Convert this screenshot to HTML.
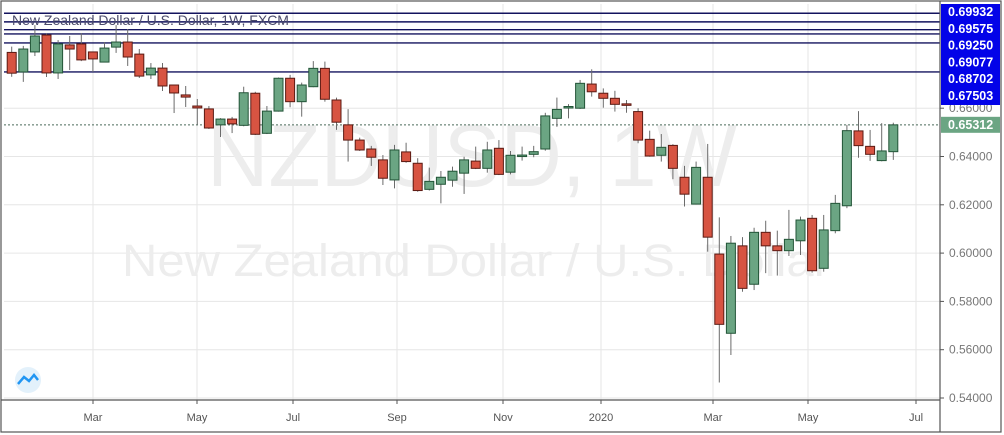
<!DOCTYPE html>
<html><head><meta charset="utf-8"><style>
body{margin:0;background:#fff;overflow:hidden}
svg{display:block;font-family:"Liberation Sans",sans-serif}
</style></head><body>
<svg id="c" width="1004" height="435">
<rect x="0" y="0" width="1004" height="435" fill="#fff"/>
<g id="grid"></g>
<g id="wm">
<text x="472" y="186" font-size="88" fill="#ededed" text-anchor="middle" textLength="530" lengthAdjust="spacingAndGlyphs">NZDUSD, 1W</text>
<text x="476" y="276" font-size="45" fill="#ededed" text-anchor="middle" textLength="708" lengthAdjust="spacingAndGlyphs">New Zealand Dollar / U.S. Dollar</text>
</g>
<g id="levels"></g>
<g id="candles"></g>
<g id="axis"></g>
<text x="12" y="25" font-size="14" fill="#4a4a6a">New Zealand Dollar / U.S. Dollar, 1W, FXCM</text>
<g><circle cx="28" cy="380" r="13" fill="#e3f1fb"/><path d="M18 384 L24 377 L29 381 L34 375 L38 380" stroke="#2196f3" stroke-width="2.5" fill="none"/></g>
</svg>
<script>
const months=["Mar","May","Jul","Sep","Nov","2020","Mar","May","Jul"];
const monthX=[93,197,293,397,503,601,713,808,916];
const priceTicks=[0.54,0.56,0.58,0.60,0.62,0.64,0.66];
const levels=[0.69932,0.69575,0.69250,0.69077,0.68702,0.67503];
const lastPrice=0.65312;
const opens=[0.6831,0.6750,0.6833,0.6903,0.6746,0.6862,0.6866,0.6833,0.6791,0.6853,0.6874,0.6824,0.6738,0.6766,0.6696,0.6655,0.6609,0.6597,0.6531,0.6555,0.6529,0.6662,0.6496,0.6588,0.6724,0.6627,0.6689,0.6765,0.6634,0.6531,0.6468,0.6431,0.6386,0.6303,0.6419,0.6372,0.6264,0.6285,0.6302,0.6331,0.6381,0.6351,0.6434,0.6335,0.6404,0.6409,0.6431,0.6558,0.6606,0.6600,0.6700,0.6662,0.6641,0.6618,0.6586,0.6471,0.6405,0.6446,0.6314,0.6203,0.6314,0.5996,0.5668,0.6030,0.5871,0.6086,0.6030,0.6010,0.6051,0.6144,0.5937,0.6093,0.6196,0.6506,0.6442,0.6383,0.6420];
const highs=[0.6855,0.6858,0.6944,0.6911,0.6882,0.6899,0.6911,0.6833,0.6874,0.6944,0.6928,0.6845,0.6787,0.6787,0.6696,0.6692,0.6638,0.6609,0.6559,0.6564,0.6689,0.6668,0.6609,0.6727,0.6738,0.6706,0.6795,0.6793,0.6644,0.6596,0.6478,0.6444,0.6406,0.6448,0.6457,0.6393,0.6354,0.6340,0.6358,0.6399,0.6441,0.6461,0.6468,0.6423,0.6441,0.6444,0.6581,0.6644,0.6617,0.6717,0.6761,0.6682,0.6672,0.6634,0.6600,0.6507,0.6493,0.6451,0.6361,0.6379,0.6452,0.6148,0.6071,0.6066,0.6105,0.6134,0.6093,0.6179,0.6151,0.6158,0.6158,0.6241,0.6531,0.6588,0.6510,0.6538,0.6540];
const lows=[0.6730,0.6709,0.6816,0.6729,0.6721,0.6758,0.6795,0.6750,0.6791,0.6829,0.6775,0.6725,0.6721,0.6671,0.6580,0.6605,0.6531,0.6514,0.6481,0.6497,0.6525,0.6489,0.6493,0.6586,0.6604,0.6565,0.6687,0.6627,0.6510,0.6379,0.6423,0.6361,0.6282,0.6268,0.6374,0.6254,0.6259,0.6206,0.6275,0.6245,0.6348,0.6333,0.6323,0.6326,0.6383,0.6397,0.6424,0.6523,0.6558,0.6597,0.6648,0.6602,0.6586,0.6581,0.6455,0.6399,0.6379,0.6306,0.6193,0.6201,0.6006,0.5464,0.5578,0.5840,0.5847,0.5917,0.5907,0.5988,0.5992,0.5919,0.5923,0.6082,0.6186,0.6395,0.6382,0.6380,0.6386];
const closes=[0.6745,0.6845,0.6899,0.6746,0.6866,0.6845,0.6800,0.6804,0.6849,0.6874,0.6812,0.6733,0.6766,0.6692,0.6663,0.6646,0.6601,0.6518,0.6555,0.6535,0.6664,0.6492,0.6588,0.6724,0.6627,0.6696,0.6765,0.6637,0.6542,0.6468,0.6427,0.6397,0.6310,0.6427,0.6379,0.6259,0.6297,0.6314,0.6339,0.6386,0.6351,0.6427,0.6326,0.6405,0.6406,0.6420,0.6568,0.6595,0.6607,0.6703,0.6668,0.6641,0.6616,0.6613,0.6468,0.6402,0.6438,0.6351,0.6244,0.6355,0.6066,0.5705,0.6041,0.5854,0.6086,0.6030,0.6010,0.6057,0.6137,0.5927,0.6096,0.6206,0.6507,0.6445,0.6409,0.6423,0.6531];

const NS="http://www.w3.org/2000/svg";
const L=4,R=940,T=4,B=400;
function y(p){return 398-(p-0.54)*2415;}
function x(i){return 11.7+i*11.6;}
function mk(tag,attrs,parent){const e=document.createElementNS(NS,tag);for(const k in attrs)e.setAttribute(k,attrs[k]);document.getElementById(parent).appendChild(e);return e;}

monthX.forEach((mx)=>{const g=mk('line',{x1:mx,x2:mx,y1:T,y2:B,stroke:'#e6e6e6','stroke-width':1},'grid');

});
priceTicks.forEach((p)=>{const g=mk('line',{x1:L,x2:R,y1:y(p),y2:y(p),stroke:'#e6e6e6','stroke-width':1},'grid');

});

levels.forEach((p)=>{const l=mk('line',{x1:L,x2:R,y1:y(p),y2:y(p),stroke:'#13135e','stroke-width':1.4},'levels');

});
const dl=mk('line',{x1:L,x2:R,y1:y(lastPrice),y2:y(lastPrice),stroke:'#4a6a5a','stroke-width':1,'stroke-dasharray':'2,2'},'levels');



for(let i=0;i<opens.length;i++){
  const up=closes[i]>=opens[i];
  const cx=x(i);
  const w=mk('line',{x1:cx,x2:cx,y1:y(highs[i]),y2:y(lows[i]),stroke:'#6b6b6b','stroke-width':1},'candles');
  
  
  const top=y(Math.max(opens[i],closes[i])),bot=y(Math.min(opens[i],closes[i]));
  const b=mk('rect',{x:cx-4.5,y:top,width:9,height:Math.max(bot-top,1.5),fill:up?'#6ba583':'#d75442',stroke:up?'#225437':'#5b1a13','stroke-width':1},'candles');
  
  
}

mk('rect',{x:1,y:1,width:1000,height:431,fill:'none',stroke:'#555','stroke-width':1.2},'axis');
mk('line',{x1:R,x2:R,y1:1,y2:432,stroke:'#555','stroke-width':1.2},'axis');
mk('line',{x1:1,x2:R,y1:B,y2:B,stroke:'#555','stroke-width':1.2},'axis');
priceTicks.forEach((p)=>{
  mk('line',{x1:R,x2:R+4,y1:y(p),y2:y(p),stroke:'#555'},'axis');
  const t=mk('text',{x:R+9,y:y(p)+4,'font-size':12,fill:'#777'},'axis');
  t.textContent=p.toFixed(5);
  
  
});
monthX.forEach((mx,i)=>{
  mk('line',{x1:mx,x2:mx,y1:B,y2:B+4,stroke:'#555'},'axis');
  const t=mk('text',{x:mx,y:421,'font-size':11,fill:'#555','text-anchor':'middle'},'axis');
  t.textContent=months[i];
  
  
});
const bb=mk('rect',{x:R+1,y:4,width:59,height:101,fill:'#0303e8'},'axis');


levels.forEach((p,i)=>{
  const t=mk('text',{x:R+8,y:16+i*16.8,'font-size':12.5,'font-weight':'bold',fill:'#fff'},'axis');
  t.textContent=p.toFixed(5);
  
  
});
const lb=mk('rect',{x:R+1,y:y(lastPrice)-8,width:59,height:16,fill:'#6ba583'},'axis');


const lt=mk('text',{x:R+8,y:y(lastPrice)+4,'font-size':12.5,'font-weight':'bold',fill:'#fff'},'axis');
lt.textContent=lastPrice.toFixed(5);


</script>
</body></html>
